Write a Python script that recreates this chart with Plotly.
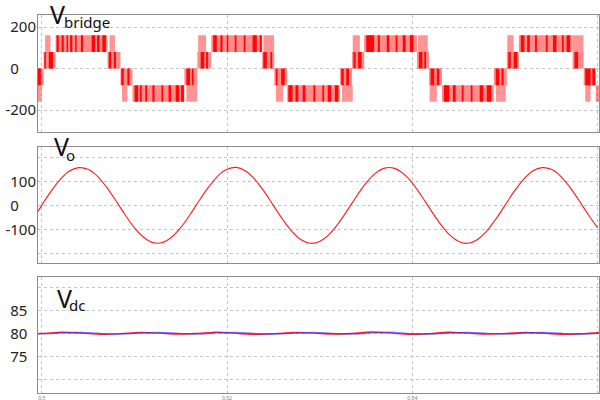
import numpy as np
import plotly.graph_objects as go
from plotly.subplots import make_subplots

# ---------------- data ----------------
# V_bridge: switching bands (start time, end time, lower level, upper level)
band_t0 = [0.4996, 0.5002, 0.5015, 0.5071, 0.5085, 0.5098, 0.5154, 0.5168, 0.5183, 0.5238,
           0.5251, 0.5265, 0.5322, 0.5335, 0.5348, 0.5405, 0.5418, 0.5432, 0.5488, 0.5502,
           0.5515, 0.5573, 0.5585, 0.5598]
band_t1 = [0.5002, 0.5015, 0.5071, 0.5085, 0.5098, 0.5154, 0.5168, 0.5183, 0.5238, 0.5251,
           0.5265, 0.5322, 0.5335, 0.5348, 0.5405, 0.5418, 0.5432, 0.5488, 0.5502, 0.5515,
           0.5573, 0.5585, 0.5598, 0.5602]
band_lo = [-80, 0, 80, 0, -80, -160, -80, 0, 80, 0, -80, -160, -80, 0, 80, 0, -80, -160, -80, 0,
           80, 0, -80, -160]
band_hi = [0, 80, 160, 80, 0, -80, 0, 80, 160, 80, 0, -80, 0, 80, 160, 80, 0, -80, 0, 80,
           160, 80, 0, -80]

# occasional excursions to the next level inside the outer-level zones
spike_t0 = [0.4996, 0.50037, 0.50732, 0.50867, 0.51562, 0.51689, 0.52392, 0.52527, 0.53241,
            0.53357, 0.54059, 0.54187, 0.54901, 0.55025, 0.55731, 0.55866]
spike_t1 = [0.49999, 0.50095, 0.50790, 0.50925, 0.51678, 0.51774, 0.52508, 0.52604, 0.53357,
            0.53434, 0.54167, 0.54264, 0.55009, 0.55094, 0.55847, 0.55924]
spike_lo = [-160, 80, 80, -160, -160, 80, 80, -160, -160, 80, 80, -160, -160, 80, 80, -160]
spike_hi = [-80, 160, 160, -80, -80, 160, 160, -80, -80, 160, 160, -80, -80, 160, 160, -80]

# densely switching stretches (dark red) inside the bands
dense_t0 = [0.49960, 0.50029, 0.50076, 0.50161, 0.50215, 0.50269, 0.50307, 0.50361, 0.50423,
            0.50539, 0.50597, 0.50655, 0.50724, 0.50778, 0.50859, 0.50925, 0.51002, 0.51060,
            0.51118, 0.51195, 0.51292, 0.51369, 0.51446, 0.51504, 0.51562, 0.51620, 0.51716,
            0.51774, 0.51851, 0.51929, 0.51998, 0.52083, 0.52180, 0.52276, 0.52353, 0.52392,
            0.52469, 0.52527, 0.52585, 0.52662, 0.52739, 0.52816, 0.52932, 0.53029, 0.53087,
            0.53164, 0.53233, 0.53287, 0.53365, 0.53415, 0.53503, 0.53627, 0.53724, 0.53820,
            0.53897, 0.53974, 0.54071, 0.54129, 0.54198, 0.54264, 0.54341, 0.54438, 0.54534,
            0.54631, 0.54727, 0.54804, 0.54901, 0.54963, 0.55036, 0.55094, 0.55171, 0.55240,
            0.55325, 0.55441, 0.55518, 0.55615, 0.55665, 0.55750, 0.55866, 0.55943]
dense_t1 = [0.49991, 0.50045, 0.50122, 0.50184, 0.50238, 0.50284, 0.50331, 0.50377, 0.50446,
            0.50578, 0.50624, 0.50693, 0.50751, 0.50801, 0.50886, 0.50948, 0.51041, 0.51079,
            0.51137, 0.51218, 0.51311, 0.51396, 0.51485, 0.51535, 0.51601, 0.51639, 0.51755,
            0.51794, 0.51890, 0.51952, 0.52014, 0.52102, 0.52199, 0.52322, 0.52376, 0.52430,
            0.52488, 0.52546, 0.52623, 0.52708, 0.52770, 0.52847, 0.52952, 0.53048, 0.53125,
            0.53202, 0.53260, 0.53318, 0.53388, 0.53453, 0.53588, 0.53650, 0.53751, 0.53839,
            0.53928, 0.54013, 0.54110, 0.54148, 0.54237, 0.54291, 0.54399, 0.54468, 0.54553,
            0.54650, 0.54766, 0.54854, 0.54939, 0.54986, 0.55063, 0.55132, 0.55210, 0.55268,
            0.55345, 0.55461, 0.55557, 0.55634, 0.55704, 0.55789, 0.55924, 0.55974]

# V_o samples (one per millisecond from 0.500 s, plus the first visible point)
vo_t_first = 0.4996
vo_first = -25
vo_vals = [0, 58, 108, 143, 157, 150, 122, 76, 20, -39, -93, -133, -155, -155, -133, -93, -39,
           20, 76, 122, 150, 158, 143, 108, 58, 0, -58, -108, -143, -158, -150, -122, -76, -20,
           39, 93, 133, 155, 155, 133, 93, 39, -20, -76, -122, -150, -158, -143, -108, -58, 0,
           58, 108, 143, 157, 150, 122, 76, 20, -39, -93]

# V_dc samples (every quarter of the 120 Hz ripple period, starting 0.4981 s)
vdc_red = [79.85, 80.0, 80.25, 80.05, 79.8, 79.95, 80.2, 80.05, 79.85, 80.0, 80.25, 80.0,
           79.8, 79.95, 80.2, 80.05, 79.85, 80.0, 80.3, 80.05, 79.8, 79.95, 80.25, 80.05,
           79.85, 80.0, 80.2, 80.0, 79.8, 79.95, 80.2]
vdc_blue = [79.95, 79.9, 80.1, 80.2, 79.95, 79.85, 80.05, 80.2, 80.0, 79.85, 80.1, 80.2,
            79.95, 79.85, 80.05, 80.2, 80.0, 79.85, 80.1, 80.25, 79.95, 79.85, 80.05, 80.2,
            80.0, 79.85, 80.1, 80.2, 79.95, 79.85, 80.05]

x_ticks = [0.5, 0.52, 0.54, 0.56]
x_ticktext = ["0.5", "0.52", "0.54", "0.56"]
FS = "\u2007"  # figure space: keeps the tick labels left-aligned like the original
vb_ticks = [-200, 0, 200]
vb_ticktext = ["-200", "0" + FS * 2, "200"]
vo_ticks = [-200, -100, 0, 100, 200]
vo_ticktext = ["", "-100", "0" + FS * 2, "100", ""]
vdc_ticks = [70, 75, 80, 85, 90]
vdc_ticktext = ["", "75" + FS, "80" + FS, "85" + FS, ""]

# ---------------- figure ----------------
fig = make_subplots(rows=3, cols=1, shared_xaxes=False, vertical_spacing=0.04)


def rects(t0, t1, lo, hi):
    xs, ys = [], []
    for a, b, l, h in zip(t0, t1, lo, hi):
        xs += [a, b, b, a, a, None]
        ys += [l, l, h, h, l, None]
    return xs, ys


def band_of(t):
    for a, b, l, h in zip(band_t0, band_t1, band_lo, band_hi):
        if a <= t <= b:
            return l, h
    return 0, 0


dense_lo, dense_hi = [], []
for a, b in zip(dense_t0, dense_t1):
    l, h = band_of(0.5 * (a + b))
    dense_lo.append(l)
    dense_hi.append(h)

sx, sy = rects(spike_t0, spike_t1, spike_lo, spike_hi)
fig.add_trace(go.Scatter(x=sx, y=sy, fill="toself", mode="lines", line=dict(width=0),
                         fillcolor="rgba(255,0,0,0.42)", hoverinfo="skip"), row=1, col=1)
bx, by = rects(band_t0, band_t1, band_lo, band_hi)
fig.add_trace(go.Scatter(x=bx, y=by, fill="toself", mode="lines", line=dict(width=0),
                         fillcolor="rgba(255,0,0,0.45)", hoverinfo="skip"), row=1, col=1)
dx, dy = rects(dense_t0, dense_t1, dense_lo, dense_hi)
fig.add_trace(go.Scatter(x=dx, y=dy, fill="toself", mode="lines", line=dict(width=0),
                         fillcolor="rgba(255,0,0,0.95)", hoverinfo="skip"), row=1, col=1)

vo_t = [vo_t_first] + list(np.round(0.5 + 0.001 * np.arange(len(vo_vals)), 4))
fig.add_trace(go.Scatter(x=vo_t, y=[vo_first] + vo_vals, mode="lines",
                         line=dict(color="#ff1a1a", width=1.1, shape="spline")), row=2, col=1)

vdc_t = list(np.round(0.4981 + (1 / 480) * np.arange(len(vdc_red)), 5))
fig.add_trace(go.Scatter(x=vdc_t, y=vdc_red, mode="lines",
                         line=dict(color="#ff2020", width=1.4, shape="spline")), row=3, col=1)
fig.add_trace(go.Scatter(x=vdc_t, y=vdc_blue, mode="lines",
                         line=dict(color="rgba(40,40,255,0.6)", width=1.4, shape="spline")), row=3, col=1)

axis_common = dict(showline=True, mirror=True, linecolor="#8c8c8c", linewidth=1,
                   showgrid=True, gridcolor="#c4c4c4", griddash="dot", gridwidth=1,
                   zeroline=False, ticks="", automargin=False)

domains = [[0.6905, 1.0], [0.3439, 0.6508], [0.0, 0.3069]]
for i in range(3):
    xa = "xaxis" if i == 0 else f"xaxis{i + 1}"
    ya = "yaxis" if i == 0 else f"yaxis{i + 1}"
    fig.layout[xa].update(range=[0.4996, 0.56015], tickvals=x_ticks,
                          ticktext=x_ticktext if i == 2 else ["", "", "", ""],
                          tickfont=dict(size=5, color="#777"), **axis_common)
    fig.layout[ya].update(domain=domains[i], tickfont=dict(size=15, color="#222",
                                                           family="Noto Sans"),
                          ticklabelstandoff=-2, **axis_common)

fig.layout.yaxis.update(range=[-305, 258], tickvals=vb_ticks, ticktext=vb_ticktext)
fig.layout.yaxis2.update(range=[-240, 243], tickvals=vo_ticks, ticktext=vo_ticktext)
fig.layout.yaxis3.update(range=[67.1, 92.2], tickvals=vdc_ticks, ticktext=vdc_ticktext)

big = dict(family="Noto Sans", size=25, color="#111")
small = dict(family="Noto Sans", size=15, color="#111")
labels = [("V", 0.0214, 0.9569, big), ("bridge", 0.0464, 0.9540, small),
          ("V", 0.0286, 0.6077, big), ("o", 0.0499, 0.6021, small),
          ("V", 0.0339, 0.2056, big), ("dc", 0.0553, 0.2053, small)]
for txt, lx, ly, fnt in labels:
    fig.add_annotation(text=txt, xref="paper", yref="paper", x=lx, y=ly,
                       xanchor="left", yanchor="bottom", showarrow=False, font=fnt,
                       borderpad=0, borderwidth=0)

fig.update_layout(width=600, height=400, margin=dict(l=38, r=1, t=15, b=7),
                  paper_bgcolor="white", plot_bgcolor="white", showlegend=False,
                  font=dict(family="Noto Sans"))

fig.write_html("out.html", config={"displayModeBar": False},
               post_script="document.body.style.margin='0';")
